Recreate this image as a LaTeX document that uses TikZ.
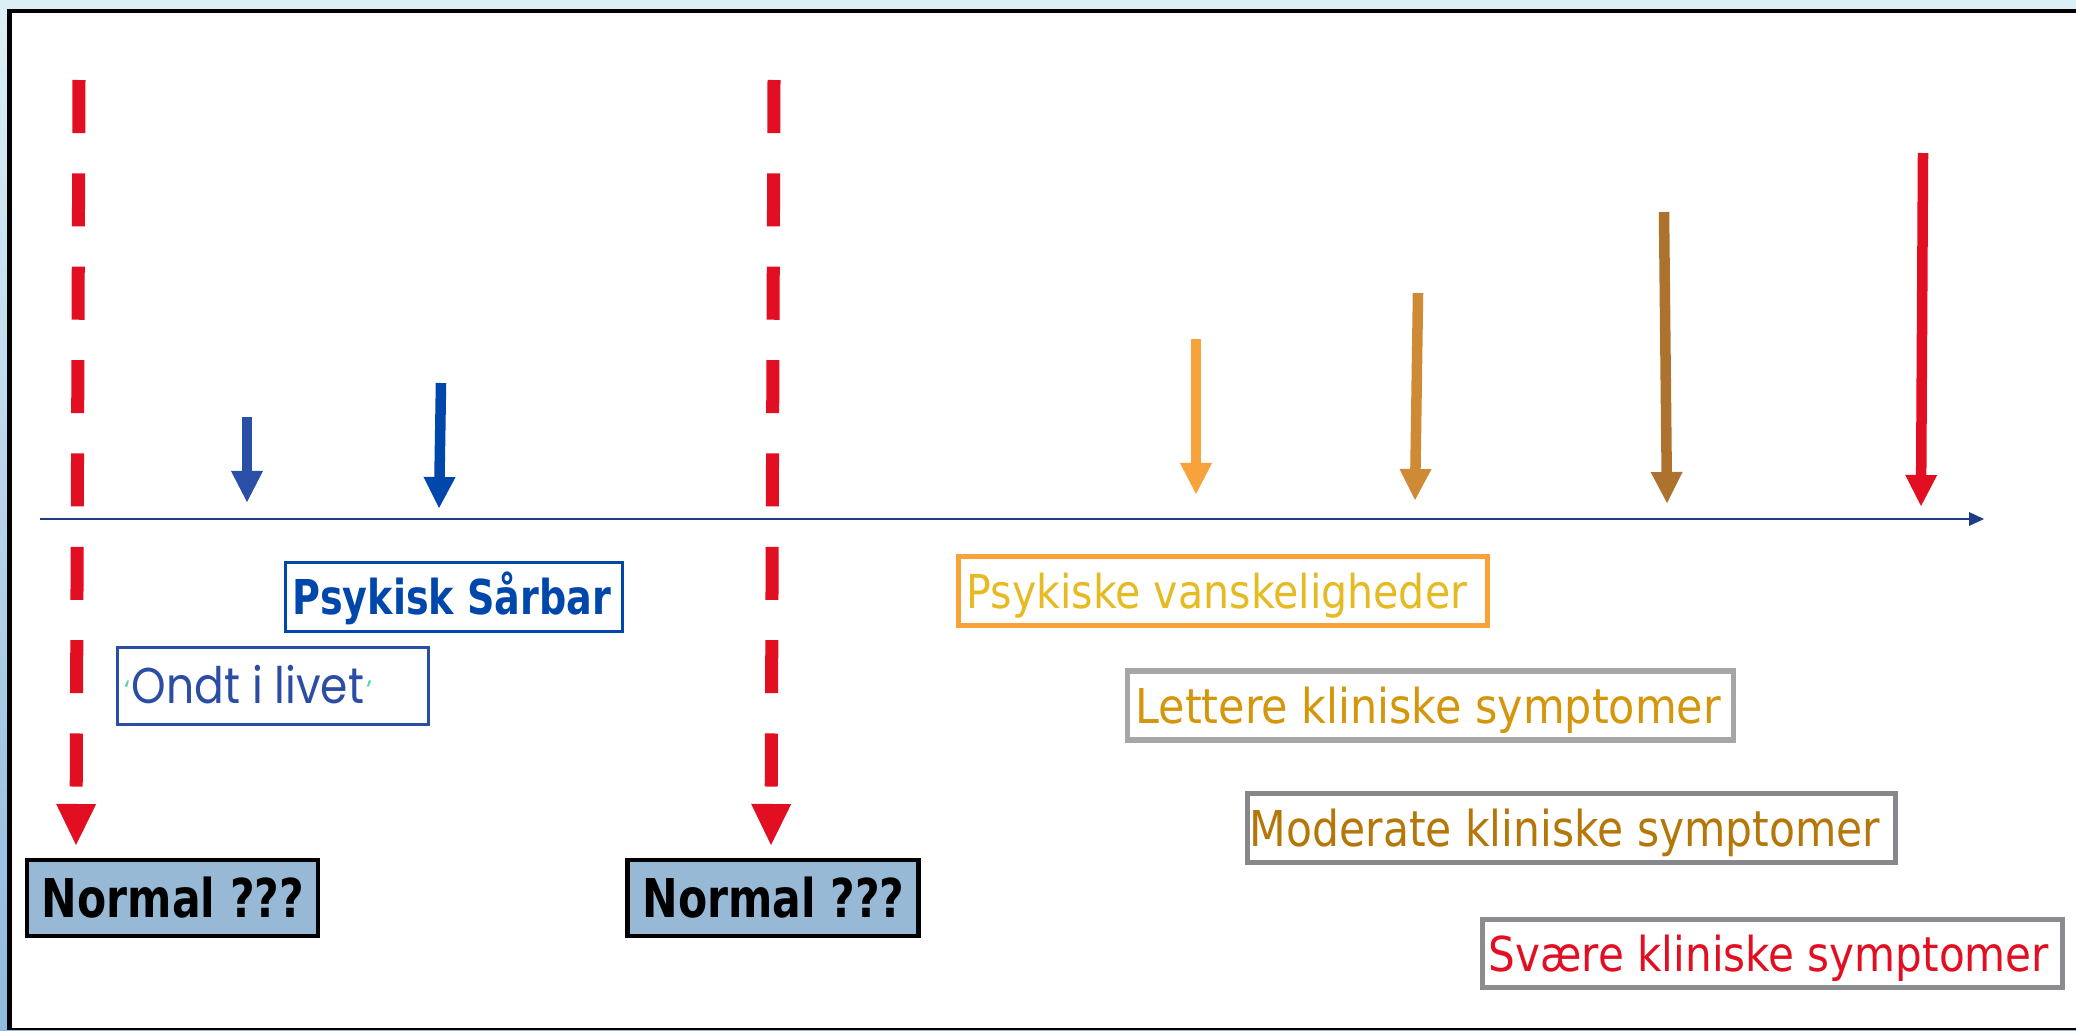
\documentclass[tikz,border=0pt]{standalone}
\usepackage{fontspec}
\usepackage{graphicx}
\setmainfont{DejaVu Sans}
\newfontfamily\geofont{Poppins}
\usetikzlibrary{arrows.meta}
\definecolor{cred}{HTML}{E10F21}
\definecolor{nfill}{HTML}{98B9D6}
\definecolor{psblue}{HTML}{0047AB}
\definecolor{olblue}{HTML}{2B4DA3}
\definecolor{qgreen}{HTML}{5CD6A5}
\definecolor{pvborder}{HTML}{F8A33A}
\definecolor{pvtext}{HTML}{E6BA22}
\definecolor{lkborder}{HTML}{A6A6A6}
\definecolor{lktext}{HTML}{D4960B}
\definecolor{mkborder}{HTML}{86888C}
\definecolor{mktext}{HTML}{B5760A}
\definecolor{skborder}{HTML}{8A8C90}
\definecolor{axisblue}{HTML}{1F3D86}
\definecolor{arA}{HTML}{2B4EA6}
\definecolor{arC}{HTML}{F7A23A}
\definecolor{arD}{HTML}{CF8A36}
\definecolor{arE}{HTML}{AE722F}
\definecolor{bgtop}{HTML}{DDEFF6}
\definecolor{bgbot}{HTML}{8EBADD}
\newcommand{\boxtxt}[4]{\makebox[#1][l]{\hspace*{#2}\resizebox{#3}{\height}{#4}}}
\newcommand{\qmark}[1]{\raisebox{0.03cm}{\color{qgreen}\geofont\fontsize{8}{8}\selectfont #1}}
\tikzset{
  lbl/.style={rectangle, inner sep=0pt, text depth=0pt},
  varrow/.style={line width=0.105cm, -{Triangle[length=0.31cm, width=0.32cm, line width=0pt]}},
  rdash/.style={draw=cred, line width=0.13cm, dash pattern=on 0.53cm off 0.403cm,
    -{Triangle[length=0.41cm, width=0.40cm, line width=0pt]}},
  axisline/.style={draw=axisblue, line width=0.02cm, -{Triangle[length=0.15cm, width=0.14cm, line width=0pt]}},
}
\begin{document}
\begin{tikzpicture}[x=0.01cm, y=-0.01cm]
\useasboundingbox (0,0) rectangle (2076,1030);
% background and frame
\shade[top color=bgtop, bottom color=bgbot] (0,0) rectangle (2076,1030);
\fill[black] (7,9) rectangle (2076,1030);
\fill[white] (12,12.5) rectangle (2076,1027.5);

% coordinates
\coordinate (d1top) at (79,80);
\coordinate (d1end) at (76,845);
\coordinate (d2top) at (774,80);
\coordinate (d2end) at (771,845);
\coordinate (atop) at (247,417);
\coordinate (aend) at (247,502);
\coordinate (btop) at (441,383);
\coordinate (bend) at (439,508);
\coordinate (ctop) at (1196,339);
\coordinate (cend) at (1196,494);
\coordinate (dtop) at (1418,293);
\coordinate (dend) at (1415,500);
\coordinate (etop) at (1664,212);
\coordinate (eend) at (1667,503);
\coordinate (ftop) at (1923,153);
\coordinate (fend) at (1921,506);
\coordinate (axstart) at (40,519);
\coordinate (axend) at (1984,519);

% axis
\draw[axisline] (axstart) -- (axend);

% dashed red arrows
\draw[rdash] (d1top) -- (d1end);
\draw[rdash] (d2top) -- (d2end);

% vertical arrows
\draw[varrow, draw=arA, fill=arA] (atop) -- (aend);
\draw[varrow, draw=psblue, fill=psblue] (btop) -- (bend);
\draw[varrow, draw=arC, fill=arC] (ctop) -- (cend);
\draw[varrow, draw=arD, fill=arD] (dtop) -- (dend);
\draw[varrow, draw=arE, fill=arE] (etop) -- (eend);
\draw[varrow, draw=cred, fill=cred] (ftop) -- (fend);

% boxes
\node[lbl, draw=black, fill=nfill, line width=0.045cm, minimum height=0.755cm, text height=0.39cm] (n1) at (172.5,898)
  {\boxtxt{2.905cm}{0.1475cm}{2.62cm}{\fontsize{15.2}{16}\selectfont\bfseries Normal ???}};
\node[lbl, draw=black, fill=nfill, line width=0.045cm, minimum height=0.755cm, text height=0.39cm] (n2) at (773,898)
  {\boxtxt{2.905cm}{0.1475cm}{2.62cm}{\fontsize{15.2}{16}\selectfont\bfseries Normal ???}};
\node[lbl, draw=psblue, text=psblue, line width=0.03cm, minimum height=0.69cm, text height=0.35cm] (ps) at (454,597)
  {\boxtxt{3.37cm}{0.075cm}{3.18cm}{\fontsize{13.66}{15}\selectfont\bfseries Psykisk Sårbar}};
\node[lbl, draw=olblue, text=olblue, line width=0.03cm, minimum height=0.76cm, text height=0.35cm] (ol) at (273,686)
  {\makebox[3.11cm][l]{\hspace*{0.145cm}\llap{\qmark{‘}\hspace{0.02cm}}\resizebox{2.32cm}{\height}{\geofont\fontsize{14.3}{15}\selectfont Ondt i livet}\rlap{\hspace{0.02cm}\qmark{’}}}};
\node[lbl, draw=pvborder, text=pvtext, line width=0.055cm, minimum height=0.685cm, text height=0.34cm] (pv) at (1223,591)
  {\boxtxt{5.285cm}{0.0825cm}{5.00cm}{\fontsize{13.27}{15}\selectfont Psykiske vanskeligheder}};
\node[lbl, draw=lkborder, text=lktext, line width=0.055cm, minimum height=0.69cm, text height=0.35cm] (lk) at (1430.5,705.5)
  {\boxtxt{6.055cm}{0.08cm}{5.85cm}{\fontsize{13.66}{15}\selectfont Lettere kliniske symptomer}};
\node[lbl, draw=mkborder, text=mktext, line width=0.05cm, minimum height=0.69cm, text height=0.36cm] (mk) at (1571.5,828)
  {\boxtxt{6.48cm}{0.025cm}{6.30cm}{\fontsize{14.05}{16}\selectfont Moderate kliniske symptomer}};
\node[lbl, draw=skborder, text=cred, line width=0.055cm, minimum height=0.675cm, text height=0.35cm] (sk) at (1772.5,953.5)
  {\boxtxt{5.795cm}{0.0625cm}{5.60cm}{\fontsize{13.66}{15}\selectfont Svære kliniske symptomer}};
\end{tikzpicture}
\end{document}
